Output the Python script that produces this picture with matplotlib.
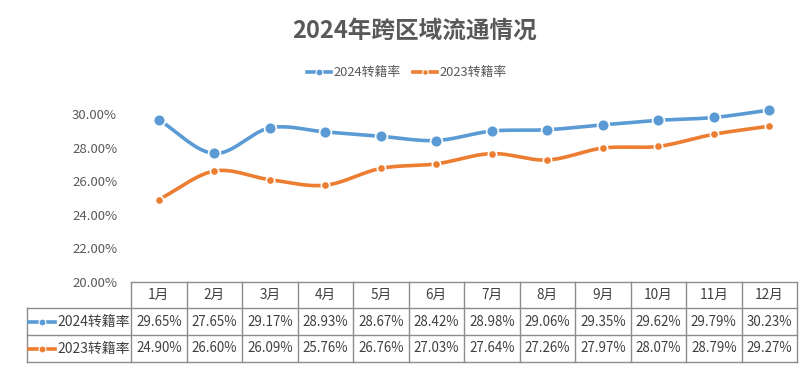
import numpy as np
import matplotlib.pyplot as plt
from matplotlib.lines import Line2D

plt.rcParams['font.family'] = ['Noto Sans CJK SC', 'DejaVu Sans']

# Данные
months = ['1月', '2月', '3月', '4月', '5月', '6月', '7月', '8月', '9月', '10月', '11月', '12月']
rate_2024 = [29.65, 27.65, 29.17, 28.93, 28.67, 28.42, 28.98, 29.06, 29.35, 29.62, 29.79, 30.23]
rate_2023 = [24.90, 26.60, 26.09, 25.76, 26.76, 27.03, 27.64, 27.26, 27.97, 28.07, 28.79, 29.27]
series_names = ['2024转籍率', '2023转籍率']
yticks = [20, 22, 24, 26, 28, 30]

blue = '#5B9BD5'
orange = '#ED7D31'
text_c = '#595959'
grid_c = '#8C8C8C'


# Сглаживание (как "smooth line" в Excel) — кривая Катмулла-Рома
def smooth(y, steps=20):
    y = np.asarray(y, dtype=float)
    p = np.concatenate([[2 * y[0] - y[1]], y, [2 * y[-1] - y[-2]]])
    xs, ys = [], []
    for i in range(1, len(p) - 2):
        t = np.linspace(0, 1, steps, endpoint=False)
        p0, p1, p2, p3 = p[i - 1], p[i], p[i + 1], p[i + 2]
        v = 0.5 * (2 * p1 + (-p0 + p2) * t + (2 * p0 - 5 * p1 + 4 * p2 - p3) * t**2
                   + (-p0 + 3 * p1 - 3 * p2 + p3) * t**3)
        xs.append(i - 1 + t)
        ys.append(v)
    xs.append([len(y) - 1])
    ys.append([y[-1]])
    return np.concatenate(xs), np.concatenate(ys)


W, H = 808, 370
fig = plt.figure(figsize=(W / 100, H / 100), dpi=100)


def px(x0, y0, x1, y1):
    return [x0 / W, 1 - y1 / H, (x1 - x0) / W, (y1 - y0) / H]


ax = fig.add_axes(px(131, 100, 797, 282))
x = np.arange(len(months))
for vals, col, ms in [(rate_2024, blue, 8.5), (rate_2023, orange, 6)]:
    sx, sy = smooth(vals)
    ax.plot(sx, sy, color=col, lw=2.6, solid_capstyle='round', zorder=2)
    ax.plot(x, vals, 'o', color=col, ms=ms, mec='white', mew=1.2, zorder=3)

ax.set_xlim(-0.5, len(months) - 0.5)
ax.set_ylim(20, 30.83)
ax.set_yticks(yticks)
ax.set_yticklabels([f'{v:.2f}%' for v in yticks], color=text_c, fontsize=9.5)
ax.tick_params(axis='y', length=0, pad=10)
ax.set_xticks([])
for s in ax.spines.values():
    s.set_visible(False)

# Заголовок и легенда
fig.text(415 / W, 1 - 31 / H, '2024年跨区域流通情况', ha='center', va='center',
         fontsize=17, fontweight='bold', color=text_c)
for (lx, name, col, ms) in [(307, series_names[0], blue, 5), (413, series_names[1], orange, 4)]:
    fig.add_artist(Line2D([lx / W, (lx + 24) / W], [1 - 72 / H] * 2, color=col, lw=2.6))
    fig.add_artist(Line2D([(lx + 12) / W], [1 - 72 / H], marker='o', color=col, ms=ms,
                          mec='white', mew=0.8))
    fig.text((lx + 26) / W, 1 - 72 / H, name, ha='left', va='center', fontsize=9.3, color=text_c)

# Таблица данных
tab = fig.add_axes(px(131, 282, 797, 362))
tab.set_xlim(-0.5, len(months) - 0.5)
tab.set_ylim(362, 282)
tab.axis('off')
left = -0.5 - (131 - 27) / 55.5
rows = [282, 308, 335, 362]
lk = dict(color=grid_c, lw=1, clip_on=False)
tab.plot([-0.5, 11.5], [282, 282], **lk)
for ry in rows[1:]:
    tab.plot([left, 11.5], [ry, ry], **lk)
for i in range(len(months) + 1):
    tab.plot([i - 0.5, i - 0.5], [282, 362], **lk)
tab.plot([left, left], [308, 362], **lk)

for i, m in enumerate(months):
    tab.text(i, 295, m, ha='center', va='center', fontsize=9.8, color='#404040')
    tab.text(i, 321.5, f'{rate_2024[i]:.2f}%', ha='center', va='center', fontsize=9.6, color='#404040')
    tab.text(i, 348.5, f'{rate_2023[i]:.2f}%', ha='center', va='center', fontsize=9.6, color='#404040')

for ry, name, col in [(321.5, series_names[0], blue), (348.5, series_names[1], orange)]:
    x0 = left + 2 / 55.5
    x1 = left + 28 / 55.5
    tab.plot([x0, x1], [ry, ry], color=col, lw=2.6, clip_on=False)
    tab.plot([(x0 + x1) / 2], [ry], 'o', color=col, ms=5, mec='white', mew=0.8, clip_on=False)
    tab.text(left + 30 / 55.5, ry, name, ha='left', va='center', fontsize=10, color='#404040')

fig.savefig('out.png', dpi=100)
